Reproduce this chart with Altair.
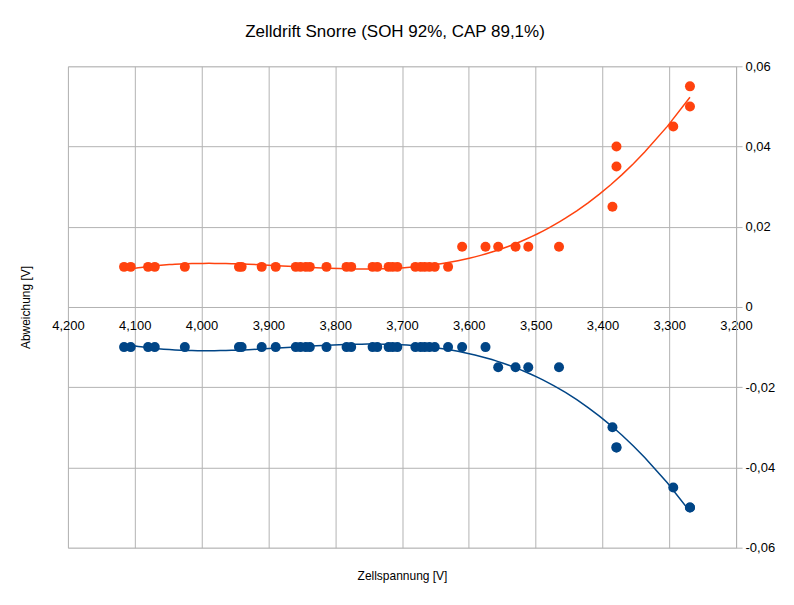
import altair as alt
import pandas as pd

# Cell voltage [V] (x)
voltage = [4.116, 4.106, 4.080, 4.070, 4.025, 3.944, 3.940, 3.910, 3.889, 3.859,
           3.852, 3.844, 3.838, 3.813, 3.783, 3.776, 3.744, 3.737, 3.720, 3.714,
           3.707, 3.680, 3.672, 3.666, 3.659, 3.651, 3.631, 3.610, 3.575, 3.556,
           3.530, 3.511, 3.465, 3.385, 3.379, 3.379, 3.294, 3.269, 3.269]

# Max deviation (red) [V]
drift_max = [0.010, 0.010, 0.010, 0.010, 0.010, 0.010, 0.010, 0.010, 0.010, 0.010,
             0.010, 0.010, 0.010, 0.010, 0.010, 0.010, 0.010, 0.010, 0.010, 0.010,
             0.010, 0.010, 0.010, 0.010, 0.010, 0.010, 0.010, 0.015, 0.015, 0.015,
             0.015, 0.015, 0.015, 0.025, 0.040, 0.035, 0.045, 0.055, 0.050]

# Min deviation (blue) [V]
drift_min = [-0.010, -0.010, -0.010, -0.010, -0.010, -0.010, -0.010, -0.010, -0.010, -0.010,
             -0.010, -0.010, -0.010, -0.010, -0.010, -0.010, -0.010, -0.010, -0.010, -0.010,
             -0.010, -0.010, -0.010, -0.010, -0.010, -0.010, -0.010, -0.010, -0.010, -0.015,
             -0.015, -0.015, -0.015, -0.030, -0.035, -0.035, -0.045, -0.050, -0.050]

x_ticks = [3.2, 3.3, 3.4, 3.5, 3.6, 3.7, 3.8, 3.9, 4.0, 4.1, 4.2]
y_ticks = [-0.06, -0.04, -0.02, 0.0, 0.02, 0.04, 0.06]

series = ["Min"] * len(voltage) + ["Max"] * len(voltage)
df = pd.DataFrame({
    "Spannung": voltage + voltage,
    "Abweichung": drift_min + drift_max,
    "Reihe": series,
})

FONT = "Liberation Sans"
GRID = "#b3b3b3"

color = alt.Color("Reihe:N",
                  scale=alt.Scale(domain=["Min", "Max"], range=["#004586", "#ff420e"]),
                  legend=None)
xscale = alt.Scale(domain=[3.2, 4.2], reverse=True, nice=False, zero=False)
yscale = alt.Scale(domain=[-0.06, 0.06], nice=False, zero=False)

grid_x_axis = alt.Axis(orient="bottom", values=x_ticks, grid=True, gridColor=GRID,
                       gridOpacity=1, labels=False, ticks=False, domain=False,
                       title="Zellspannung [V]", titleFont=FONT, titleFontSize=12,
                       titleFontWeight="normal", titleColor="#000000", titlePadding=23)
grid_y_axis = alt.Axis(orient="left", values=y_ticks, grid=True, gridColor=GRID,
                       gridOpacity=1, labels=False, ticks=False, domain=False,
                       title="Abweichung [V]", titleFont=FONT, titleFontSize=12,
                       titleFontWeight="normal", titleColor="#000000", titlePadding=35)

label_x_axis = alt.Axis(orient="bottom", values=x_ticks, grid=False, offset=-241,
                        labelExpr="replace(format(datum.value, '.3f'), '.', ',')",
                        labelFlush=False, labelOverlap=False, labelBound=False,
                        ticks=False, domain=False, title=None, labelPadding=13,
                        labelFont=FONT, labelFontSize=13, labelColor="#000000")
label_y_axis = alt.Axis(orient="right", values=y_ticks, grid=False, ticks=True,
                        tickSize=6, tickColor=GRID, domain=True, domainColor=GRID,
                        labelExpr="datum.value == 0 ? '0' : (datum.value < 0 ? '-' : '') + replace(format(abs(datum.value), '.2f'), '.', ',')",
                        labelPadding=3, labelFont=FONT, labelFontSize=13,
                        labelColor="#000000", labelFlush=False, labelOverlap=False,
                        title=None)

points = alt.Chart(df).mark_circle(size=100, opacity=1).encode(
    x=alt.X("Spannung:Q", scale=xscale, axis=grid_x_axis),
    y=alt.Y("Abweichung:Q", scale=yscale, axis=grid_y_axis),
    color=color,
)

trend = alt.Chart(df).transform_regression(
    "Spannung", "Abweichung", method="poly", order=3, groupby=["Reihe"]
).mark_line(strokeWidth=1.5).encode(
    x=alt.X("Spannung:Q", scale=xscale, axis=label_x_axis),
    y=alt.Y("Abweichung:Q", scale=yscale, axis=label_y_axis),
    color=color,
)

chart = alt.layer(points, trend).resolve_axis(
    x="independent", y="independent"
).properties(
    width=669,
    height=482,
    autosize=alt.AutoSizeParams(type="none"),
    padding={"left": 60, "top": 58, "right": 50, "bottom": 40},
    title=alt.TitleParams("Zelldrift Snorre (SOH 92%, CAP 89,1%)", font=FONT,
                          fontSize=17, fontWeight="normal", color="#000000",
                          anchor="middle", baseline="alphabetic", offset=6, dx=-7),
).configure_view(stroke=None).configure(background="white")

chart.save("out.html", embed_options={"renderer": "svg", "actions": False})
